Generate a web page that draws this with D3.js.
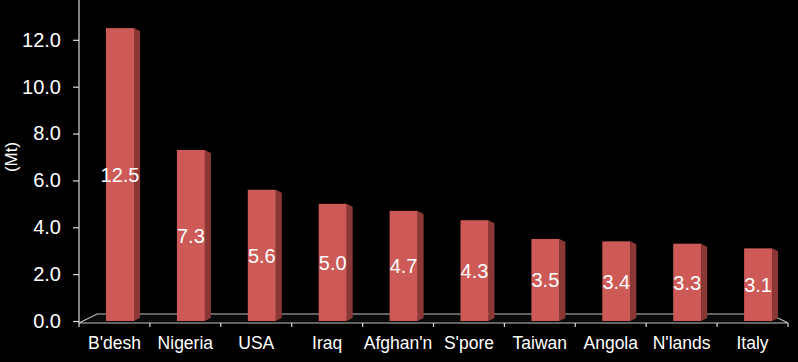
<!DOCTYPE html>
<html>
<head>
<meta charset="utf-8">
<script src="https://cdn.jsdelivr.net/npm/d3@7"></script>
<style>
  html, body { margin: 0; padding: 0; background: #000; }
  svg { display: block; font-family: Arial, "Liberation Sans", sans-serif; }
</style>
</head>
<body>
<div id="chart"></div>
<script>
// 数据
var countries = ["B'desh", 'Nigeria', 'USA', 'Iraq', "Afghan'n", "S'pore", 'Taiwan', 'Angola', "N'lands", 'Italy']
var values = [12.5, 7.3, 5.6, 5.0, 4.7, 4.3, 3.5, 3.4, 3.3, 3.1]
var yTicks = [0, 2, 4, 6, 8, 10, 12]
var yTitle = '(Mt)'

function drawChart() {
  var width = 798
  var height = 362
  var left = 79
  var right = 788
  var base = 321

  var svg = d3.select('#chart').append('svg').attr('width', width).attr('height', height)
  svg.append('rect').attr('width', width).attr('height', height).attr('fill', '#000')

  var x = d3.scaleBand().domain(countries).range([left, right])
  var y = d3.scaleLinear().domain([0, 13.7]).range([base, 0])

  // 地板
  var floorDepth = 9
  var floorSkew = 18
  svg.append('path')
    .attr('d', 'M' + left + ',' + (base + 2) + 'L' + right + ',' + (base + 2) +
      'L' + (right - floorSkew) + ',' + (base + 2 - floorDepth) +
      'L' + (left + floorSkew) + ',' + (base + 2 - floorDepth) + 'Z')
    .attr('fill', '#0a0a0a')
    .attr('stroke', '#bfbfbf')
    .attr('stroke-width', 1.2)

  // x轴刻度
  var xb = svg.append('g')
  xb.selectAll('line').data(countries.concat(['end'])).enter().append('line')
    .attr('x1', function(d, i) { return i < countries.length ? x(d) : right })
    .attr('x2', function(d, i) { return i < countries.length ? x(d) : right })
    .attr('y1', base + 2)
    .attr('y2', base + 6)
    .attr('stroke', '#d9d9d9')
    .attr('stroke-width', 1.2)

  // 柱子
  var barOffset = 27
  var barW = 28
  var dx = 6
  var dy = 3
  var bars = svg.append('g').selectAll('g').data(values).enter().append('g')

  bars.append('path')
    .attr('d', function(d, i) {
      var x1 = x(countries[i]) + barOffset + barW
      var top = y(d)
      return 'M' + x1 + ',' + top + 'L' + (x1 + dx) + ',' + (top + dy) +
        'L' + (x1 + dx) + ',' + (base - dy) + 'L' + x1 + ',' + base + 'Z'
    })
    .attr('fill', '#8a3735')

  bars.append('rect')
    .attr('x', function(d, i) { return x(countries[i]) + barOffset })
    .attr('y', function(d) { return y(d) })
    .attr('width', barW)
    .attr('height', function(d) { return base - y(d) })
    .attr('fill', '#cd5a56')

  bars.append('text')
    .text(function(d) { return d.toFixed(1) })
    .attr('x', function(d, i) { return x(countries[i]) + barOffset + barW / 2 })
    .attr('y', function(d) { return (y(d) + base) / 2 + 7.5 })
    .attr('text-anchor', 'middle')
    .attr('fill', '#fff')
    .attr('font-size', 20)

  // y轴
  var axisLeft = d3.axisLeft(y).tickValues(yTicks).tickSize(6).tickPadding(12)
    .tickFormat(function(d) { return d.toFixed(1) })
  var g = svg.append('g').attr('transform', 'translate(' + left + ',0)').call(axisLeft)
  g.select('.domain').remove()
  g.append('line').attr('x1', 0).attr('x2', 0).attr('y1', 0).attr('y2', base + 2)
    .attr('stroke', '#d9d9d9').attr('stroke-width', 1.2)
  g.selectAll('.tick line').attr('stroke', '#d9d9d9').attr('stroke-width', 1.2)
  g.selectAll('.tick text').attr('fill', '#fff').attr('font-size', 20)
    .attr('font-family', 'Arial, "Liberation Sans", sans-serif')

  svg.append('text')
    .text(yTitle)
    .attr('transform', 'translate(17,157) rotate(-90)')
    .attr('text-anchor', 'middle')
    .attr('fill', '#fff')
    .attr('font-size', 17)

  // x轴标签
  svg.append('g').selectAll('text').data(countries).enter().append('text')
    .text(function(d) { return d })
    .attr('x', function(d) { return x(d) + x.bandwidth() / 2 })
    .attr('y', 349)
    .attr('text-anchor', 'middle')
    .attr('fill', '#fff')
    .attr('font-size', 17.5)
}

drawChart()
</script>
</body>
</html>
